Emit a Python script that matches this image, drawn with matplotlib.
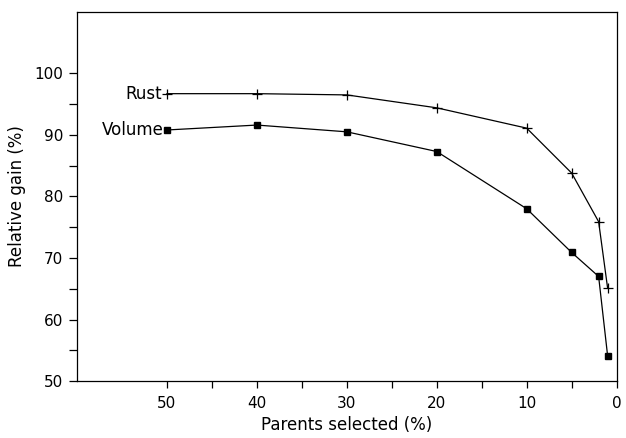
import matplotlib
matplotlib.use("Agg")
import matplotlib.pyplot as plt
from matplotlib.ticker import FixedLocator

# values
parents = [50, 40, 30, 20, 10, 5, 2, 1]
rust = [96.7, 96.7, 96.5, 94.4, 91.1, 83.8, 75.9, 65.1]
volume = [90.8, 91.6, 90.5, 87.3, 78.0, 70.9, 67.0, 54.1]
series_names = ["Rust", "Volume"]
y_ticks = [50, 60, 70, 80, 90, 100]
y_minor = [55, 65, 75, 85, 95]
x_ticks = [50, 40, 30, 20, 10, 0]
x_minor = [45, 35, 25, 15, 5]

plt.rcParams['font.family'] = ['DejaVu Sans']

fig = plt.figure(figsize=(6.26, 4.38), dpi=100)
ax = fig.add_axes([0.123, 0.130, 0.862, 0.843])

ax.plot(parents, rust, color='black', lw=0.9, marker='+', ms=7, mew=0.9)
ax.plot(parents, volume, color='black', lw=0.9, marker='s', ms=5)

# series names written at the start of each line
ax.text(parents[0] + 0.6, rust[0], series_names[0], ha='right', va='center', fontsize=12)
ax.text(parents[0] + 0.4, volume[0], series_names[1], ha='right', va='center', fontsize=12)

ax.set_xlim(60, 0)
ax.set_ylim(50, 110)
ax.set_xticks(x_ticks)
ax.set_yticks(y_ticks)
ax.xaxis.set_minor_locator(FixedLocator(x_minor))
ax.yaxis.set_minor_locator(FixedLocator(y_minor))
ax.tick_params(which='both', direction='out', labelsize=11, width=0.9)
ax.tick_params(axis='y', which='both', length=6, pad=4)
ax.tick_params(axis='x', which='both', length=5, pad=6)

for sp in ax.spines.values():
    sp.set_linewidth(0.9)

ax.set_xlabel('Parents selected (%)', fontsize=12, labelpad=3)
ax.set_ylabel('Relative gain (%)', fontsize=12, labelpad=6)

fig.savefig('out.png', dpi=100)
